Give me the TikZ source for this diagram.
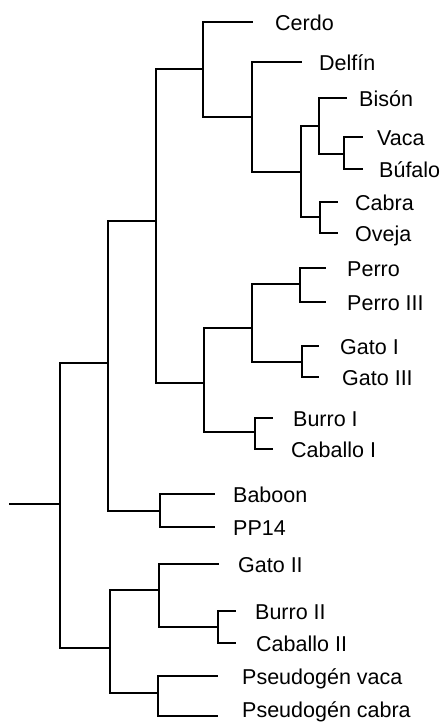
\documentclass[tikz,border=0pt]{standalone}
\usepackage{fontspec}
\setmainfont{Liberation Sans}
\begin{document}
\begin{tikzpicture}[x=1pt,y=-1pt,
  br/.style={line width=1.6pt, line cap=rect},
  lbl/.style={anchor=base west, inner sep=0pt, font=\fontsize{21.5}{24}\selectfont}]
\useasboundingbox (0,0) rectangle (439,722);

% branch points (x of the vertical bar, y where it meets its parent)
\coordinate (r0) at (10,504);
\coordinate (root) at (60,504);
\coordinate (A) at (108,363);
\coordinate (B) at (156,221);
\coordinate (C) at (203,69);
\coordinate (D) at (252,117);
\coordinate (E) at (301,172);
\coordinate (F) at (319,126);
\coordinate (G) at (344,154);
\coordinate (H) at (320,217);
\coordinate (I) at (204,383);
\coordinate (J) at (252,328);
\coordinate (K) at (300,284);
\coordinate (L) at (302,362);
\coordinate (M) at (255,432);
\coordinate (N) at (160,511);
\coordinate (O) at (110,648);
\coordinate (P) at (159,590);
\coordinate (Q) at (218,627);
\coordinate (R) at (158,693);

% leaf tips
\coordinate (cerdo) at (252,22);
\coordinate (delfin) at (301,62);
\coordinate (bison) at (346,98);
\coordinate (vaca) at (362,137);
\coordinate (bufalo) at (362,169);
\coordinate (cabra) at (337,202);
\coordinate (oveja) at (337,233);
\coordinate (perro) at (325,268);
\coordinate (perro3) at (325,302);
\coordinate (gato1) at (318,346);
\coordinate (gato3) at (318,377);
\coordinate (burro1) at (272,418);
\coordinate (caballo1) at (272,449);
\coordinate (baboon) at (214,494);
\coordinate (pp14) at (214,527);
\coordinate (gato2) at (218,564);
\coordinate (burro2) at (235,611);
\coordinate (caballo2) at (235,643);
\coordinate (pvaca) at (217,676);
\coordinate (pcabra) at (217,716);

% labels
\node[lbl] (tcerdo) at (275,30.5) {Cerdo};
\node[lbl] (tdelfin) at (319,70.5) {Delfín};
\node[lbl] (tbison) at (359,106.5) {Bisón};
\node[lbl] (tvaca) at (377,145.5) {Vaca};
\node[lbl] (tbufalo) at (379,177.5) {Búfalo};
\node[lbl] (tcabra) at (355,210.5) {Cabra};
\node[lbl] (toveja) at (355,241.5) {Oveja};
\node[lbl] (tperro) at (347,276.5) {Perro};
\node[lbl] (tperro3) at (347,310.5) {Perro III};
\node[lbl] (tgato1) at (340,354.5) {Gato I};
\node[lbl] (tgato3) at (342,385.5) {Gato III};
\node[lbl] (tburro1) at (293,426.5) {Burro I};
\node[lbl] (tcaballo1) at (291,457.5) {Caballo I};
\node[lbl] (tbaboon) at (233,502.5) {Baboon};
\node[lbl] (tpp14) at (233,535.5) {PP14};
\node[lbl] (tgato2) at (238,572.5) {Gato II};
\node[lbl] (tburro2) at (255,619.5) {Burro II};
\node[lbl] (tcaballo2) at (256,651.5) {Caballo II};
\node[lbl] (tpvaca) at (242,684.5) {Pseudogén vaca};
\node[lbl] (tpcabra) at (242,717) {Pseudogén cabra};

% tree
\draw[br] (r0) -- (root);
\draw[br] (root) |- (A);  \draw[br] (root) |- (O);
\draw[br] (A) |- (B);     \draw[br] (A) |- (N);
\draw[br] (B) |- (C);     \draw[br] (B) |- (I);
\draw[br] (C) |- (cerdo); \draw[br] (C) |- (D);
\draw[br] (D) |- (delfin);\draw[br] (D) |- (E);
\draw[br] (E) |- (F);     \draw[br] (E) |- (H);
\draw[br] (F) |- (bison); \draw[br] (F) |- (G);
\draw[br] (G) |- (vaca);  \draw[br] (G) |- (bufalo);
\draw[br] (H) |- (cabra); \draw[br] (H) |- (oveja);
\draw[br] (I) |- (J);     \draw[br] (I) |- (M);
\draw[br] (J) |- (K);     \draw[br] (J) |- (L);
\draw[br] (K) |- (perro); \draw[br] (K) |- (perro3);
\draw[br] (L) |- (gato1); \draw[br] (L) |- (gato3);
\draw[br] (M) |- (burro1);\draw[br] (M) |- (caballo1);
\draw[br] (N) |- (baboon);\draw[br] (N) |- (pp14);
\draw[br] (O) |- (P);     \draw[br] (O) |- (R);
\draw[br] (P) |- (gato2); \draw[br] (P) |- (Q);
\draw[br] (Q) |- (burro2);\draw[br] (Q) |- (caballo2);
\draw[br] (R) |- (pvaca); \draw[br] (R) |- (pcabra);
\end{tikzpicture}
\end{document}
